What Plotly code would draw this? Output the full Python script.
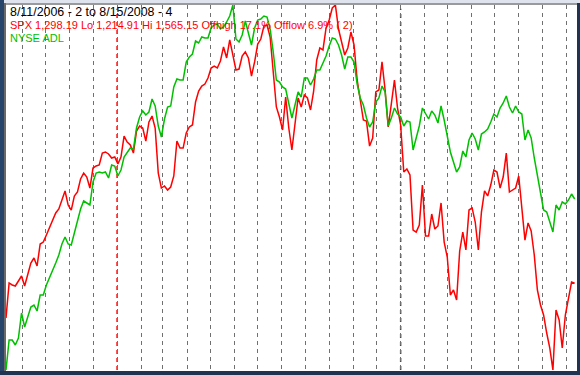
import pandas as pd
import plotly.graph_objects as go

# sampling dates (every 4 calendar days, 8/11/2006 .. 8/12/2008)
dates = pd.date_range("2006-08-11", periods=184, freq="4D")

spx = [1264.8, 1298.4, 1296.5, 1295.5, 1300.3, 1305.1, 1295.5, 1306.1, 1317.6, 1322.4,
       1314.7, 1335.8, 1337.7, 1344.4, 1352.1, 1357.9, 1365.6, 1369.4, 1379.0, 1386.7,
       1373.2, 1368.4, 1381.9, 1385.7, 1398.2, 1403.9, 1400.1, 1389.5, 1408.7, 1410.7,
       1411.6, 1423.1, 1424.1, 1422.2, 1418.3, 1419.3, 1412.6, 1419.3, 1439.4, 1433.7,
       1430.8, 1423.1, 1444.2, 1449.0, 1447.1, 1434.6, 1452.9, 1458.6, 1447.1, 1403.9,
       1389.5, 1391.5, 1387.6, 1390.5, 1401.1, 1434.6, 1427.9, 1427.9, 1442.3, 1448.1,
       1450.0, 1472.1, 1482.6, 1487.4, 1489.3, 1495.1, 1504.7, 1506.6, 1504.7, 1511.4,
       1524.9, 1514.3, 1531.6, 1517.2, 1502.8, 1503.7, 1516.2, 1520.1, 1514.3, 1497.0,
       1510.5, 1527.7, 1532.5, 1545.0, 1546.0, 1534.4, 1500.9, 1467.3, 1457.7, 1445.2,
       1476.9, 1447.1, 1426.0, 1450.0, 1475.9, 1467.3, 1478.8, 1475.9, 1464.4, 1482.6,
       1512.4, 1523.9, 1522.0, 1543.1, 1550.8, 1562.3, 1565.15, 1542.1, 1528.7, 1517.2,
       1523.9, 1539.2, 1526.8, 1493.2, 1474.0, 1454.8, 1453.8, 1429.8, 1437.5, 1481.7,
       1483.6, 1510.5, 1483.6, 1448.1, 1470.2, 1493.2, 1466.3, 1450.0, 1404.9, 1407.8,
       1402.0, 1349.2, 1347.3, 1354.0, 1392.4, 1343.5, 1343.5, 1364.6, 1350.2, 1353.1,
       1375.2, 1337.7, 1323.3, 1286.9, 1291.7, 1282.1, 1329.1, 1347.3, 1330.1, 1368.4,
       1370.4, 1356.9, 1330.1, 1366.5, 1386.7, 1381.9, 1392.4, 1406.8, 1404.9, 1389.5,
       1400.1, 1423.1, 1385.7, 1387.6, 1389.5, 1401.1, 1373.2, 1339.6, 1356.0, 1348.3,
       1325.3, 1291.7, 1277.3, 1267.7, 1250.4, 1236.0, 1214.91, 1272.5, 1262.9, 1236.0,
       1267.7, 1282.1, 1299.3, 1298.19]

nyse_adl = [30000, 30900, 30900, 30750, 30960, 31710, 31290, 31560, 31890, 31950,
            31770, 32250, 32250, 32550, 32760, 32970, 33210, 33450, 33780, 33990,
            33780, 33750, 34110, 34440, 34830, 35070, 35010, 34950, 35640, 35910,
            35940, 35910, 35940, 35760, 36150, 36120, 35820, 36000, 36390, 36510,
            36660, 36630, 37260, 37590, 37770, 37650, 37740, 38130, 37920, 37320,
            36990, 37530, 37890, 37920, 38490, 38730, 38700, 38700, 39240, 39390,
            39480, 39870, 39810, 39990, 39960, 39960, 40260, 40350, 40380, 40230,
            40290, 40440, 40620, 40950, 39930, 39840, 40050, 40470, 40080, 39750,
            40260, 40500, 40530, 40620, 40590, 40230, 39540, 38700, 38640, 38490,
            38430, 38040, 37560, 37950, 38340, 38190, 38760, 38760, 38550, 38730,
            39000, 39000, 39210, 39420, 39720, 39960, 39930, 39750, 39450, 39030,
            39390, 39390, 39240, 38580, 38160, 37950, 37560, 37290, 37440, 38040,
            38160, 38520, 38340, 37320, 37560, 37860, 37680, 37590, 37320, 37470,
            37440, 36600, 36960, 37320, 37860, 37680, 37530, 37770, 37650, 37410,
            37920, 37500, 36990, 36540, 36240, 35940, 36090, 36570, 36390, 36900,
            37110, 36930, 36600, 37080, 37140, 37230, 37440, 37680, 37590, 37860,
            38010, 38220, 37890, 37710, 37920, 37740, 37680, 36900, 37200, 36960,
            36360, 35820, 35400, 34800, 34740, 34440, 34140, 34950, 34800, 35040,
            34980, 35100, 35280, 35130]

title_lines = ["8/11/2006 - 2 to 8/15/2008 - 4",
               "SPX 1,298.19 Lo 1,214.91 Hi 1,565.15 Offhigh 17.1% Offlow 6.9% ( 2)",
               "NYSE ADL"]
title_colors = ["#000000", "#FF0000", "#00C000"]
title_sizes = [12.4, 11, 11]
year_starts = ["2007-01-01", "2008-01-01"]

W, H = 580, 375
ml, mr, mt, mb = 6, 3, 5, 5
pw, ph = W - ml - mr, H - mt - mb

fig = go.Figure()
fig.add_trace(go.Scatter(x=dates, y=spx, mode="lines", yaxis="y",
                         line=dict(color="#FF0000", width=1.5), hoverinfo="skip"))
fig.add_trace(go.Scatter(x=dates, y=nyse_adl, mode="lines", yaxis="y2",
                         line=dict(color="#00C000", width=1.5), hoverinfo="skip"))

shapes = []
for d in year_starts:
    shapes.append(dict(type="line", xref="x", yref="paper", x0=d, x1=d, y0=0, y1=0.99,
                       line=dict(color="#FF0000", width=1.5, dash="4px,4px"), layer="below"))
# window frame
def px_rect(x0, y0, x1, y1, color):
    return dict(type="rect", xref="paper", yref="paper",
                x0=(x0 - ml) / pw, x1=(x1 - ml) / pw,
                y0=1 - (y0 - mt) / ph, y1=1 - (y1 - mt) / ph,
                fillcolor=color, line=dict(width=0), layer="above")
shapes += [
    px_rect(0, 0, 580, 3, "#dfe3ee"),
    px_rect(0, 3, 580, 5, "#9a9a9a"),
    px_rect(0, 0, 4, 375, "#27456b"),
    px_rect(4, 3, 6, 371, "#6a6a6a"),
    px_rect(0, 371, 580, 375, "#1f3450"),
    px_rect(577, 3, 580, 375, "#1f3450"),
]

annotations = []
tops = [4, 18, 31]
for t, c, s, top in zip(title_lines, title_colors, title_sizes, tops):
    annotations.append(dict(text=t, xref="paper", yref="paper",
                            x=(9 - ml) / pw, y=1 - (top - mt) / ph,
                            xanchor="left", yanchor="top", showarrow=False,
                            font=dict(family="Liberation Sans, Arial", size=s, color=c),
                            borderpad=0))

fig.update_layout(
    width=W, height=H,
    margin=dict(l=ml, r=mr, t=mt, b=mb),
    paper_bgcolor="#ffffff", plot_bgcolor="#ffffff",
    showlegend=False,
    xaxis=dict(type="date", range=["2006-08-11", "2008-08-15"],
               tick0="2006-09-01", dtick="M1", showgrid=True,
               gridcolor="#707070", gridwidth=1, griddash="4px,4px",
               showticklabels=False, ticks="", zeroline=False, showline=False),
    yaxis=dict(range=[1214.91, 1565.15], visible=False, showgrid=False),
    yaxis2=dict(range=[30000, 40950], visible=False, showgrid=False,
                overlaying="y", side="right"),
    shapes=shapes,
    annotations=annotations,
)

fig.write_html("out.html")
